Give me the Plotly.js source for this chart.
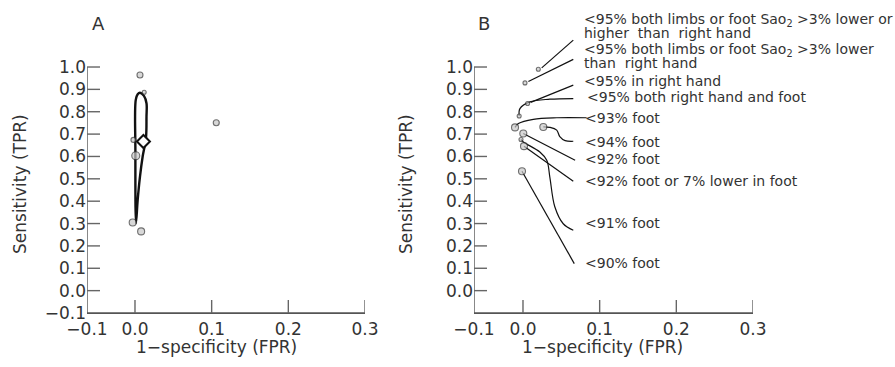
<!DOCTYPE html>
<html>
<head>
<meta charset="utf-8">
<script src="https://cdn.plot.ly/plotly-3.0.1.min.js"></script>
<style>html,body{margin:0;padding:0;background:#fff;}#chart{width:895px;height:367px;}</style>
</head>
<body>
<div id="chart"></div>
<script>
// ---------- Panel A data ----------
const studyFprA = [0.0065, 0.012, 0.106, -0.002, 0.001, -0.003, 0.008];
const studyTprA = [0.964, 0.887, 0.751, 0.674, 0.603, 0.305, 0.265];
const studyWeightA = [6, 4, 6, 5, 8, 7, 7];
const summaryFprA = [0.011];
const summaryTprA = [0.667];
const regionFprA = [0.0013, 0.0005, 0.001, 0.0035, 0.0065, 0.0117, 0.015, 0.015, 0.0143, 0.010, 0.0065, 0.0035, 0.0013];
const regionTprA = [0.302, 0.629, 0.853, 0.878, 0.885, 0.871, 0.838, 0.778, 0.682, 0.600, 0.510, 0.406, 0.302];

// ---------- Panel B data ----------
const criteriaB = [
  ["<95% both limbs or foot Sao<sub>2</sub> >3% lower or", "higher  than  right hand"],
  ["<95% both limbs or foot Sao<sub>2</sub> >3% lower", "than  right hand"],
  ["<95% in right hand"],
  ["<95% both right hand and foot"],
  ["<93% foot"],
  ["<94% foot"],
  ["<92% foot"],
  ["<91% foot"],
  ["<92% foot or 7% lower in foot"],
  ["<90% foot"]
];
const fprB = [0.020, 0.0026, 0.006, -0.005, -0.0104, 0.0265, 0.0004, -0.0026, 0.0013, -0.0013];
const tprB = [0.990, 0.929, 0.837, 0.781, 0.730, 0.732, 0.703, 0.676, 0.646, 0.534];
const weightB = [4, 4, 4, 4, 7, 7, 7, 4, 7, 7];
// leader paths (from each point to its label)
const leaderXB = [
  [0.0244, 0.0656],
  [0.007, 0.0656],
  [0.010, 0.0656],
  [-0.005, -0.004, 0.009, 0.035, 0.0656],
  [-0.0104, -0.006, 0.0135, 0.044, 0.083],
  [0.0265, 0.035, 0.044, 0.048, 0.055, 0.0656],
  [0.0004, 0.068],
  [-0.0026, 0.0004, 0.022, 0.031, 0.035, 0.0415, 0.0525, 0.0656],
  [0.0013, 0.0656],
  [-0.0013, 0.0669]
];
const leaderYB = [
  [0.996, 1.120],
  [0.935, 1.034],
  [0.842, 0.919],
  [0.781, 0.814, 0.844, 0.856, 0.859],
  [0.730, 0.747, 0.766, 0.773, 0.773],
  [0.732, 0.730, 0.718, 0.689, 0.671, 0.668],
  [0.703, 0.583],
  [0.676, 0.665, 0.620, 0.583, 0.508, 0.375, 0.299, 0.270],
  [0.646, 0.489],
  [0.534, 0.121]
];
const labelXB = [0.0765, 0.0765, 0.0765, 0.0808, 0.078, 0.078, 0.078, 0.078, 0.078, 0.078];
const labelYB = [[1.209, 1.151], [1.075, 1.017], [0.936], [0.865], [0.774], [0.665], [0.588], [0.303], [0.489], [0.124]];

// ---------- Axis ticks ----------
const xTickText = ["\u22120.1", "0.0", "0.1", "0.2", "0.3"];
const xTickValsA = [-0.0626, 0, 0.1, 0.2, 0.3];
const xTickValsB = [-0.0639, 0, 0.1, 0.2, 0.3];
const yTickValsA = [-0.1, 0, 0.1, 0.2, 0.3, 0.4, 0.5, 0.6, 0.7, 0.8, 0.9, 1.0];
const yTickTextA = ["\u22120.1", "0.0", "0.1", "0.2", "0.3", "0.4", "0.5", "0.6", "0.7", "0.8", "0.9", "1.0"];
const yTickValsB = [0, 0.1, 0.2, 0.3, 0.4, 0.5, 0.6, 0.7, 0.8, 0.9, 1.0];
const yTickTextB = ["0.0", "0.1", "0.2", "0.3", "0.4", "0.5", "0.6", "0.7", "0.8", "0.9", "1.0"];

const FONT = "DejaVu Sans";
const TXT = "#333";
const AXC = "#555";
const TICKC = "#666";
const dotFill = "#c8c8c8";
const dotLine = "#333";
const PX_PER_Y = 223.6;   // pixels per unit on the y axes
const PX_PER_X = 767;     // pixels per unit on the x axes
const TICK_PX = 13;
const yTop = 1.0 + 67 / PX_PER_Y;

const traces = [];
traces.push({x: regionFprA, y: regionTprA, xaxis: "x", yaxis: "y", mode: "lines",
  line: {color: "#111", width: 2.4, shape: "spline", smoothing: 1}, hoverinfo: "skip", showlegend: false});
traces.push({x: studyFprA, y: studyTprA, xaxis: "x", yaxis: "y", mode: "markers",
  marker: {size: studyWeightA, color: dotFill, line: {color: dotLine, width: 1.1}}, showlegend: false});
traces.push({x: summaryFprA, y: summaryTprA, xaxis: "x", yaxis: "y", mode: "markers",
  marker: {symbol: "diamond", size: 10, color: "#fff", line: {color: "#111", width: 2}}, showlegend: false});

for (let i = 0; i < leaderXB.length; i++) {
  traces.push({x: leaderXB[i], y: leaderYB[i], xaxis: "x2", yaxis: "y2", mode: "lines",
    line: {color: "#111", width: 1.2, shape: leaderXB[i].length > 2 ? "spline" : "linear"},
    hoverinfo: "skip", showlegend: false});
}
traces.push({x: fprB, y: tprB, xaxis: "x2", yaxis: "y2", mode: "markers",
  marker: {size: weightB, color: dotFill, line: {color: dotLine, width: 1.1}}, showlegend: false});

const annotations = [];
for (let i = 0; i < criteriaB.length; i++) {
  for (let j = 0; j < criteriaB[i].length; j++) {
    annotations.push({x: labelXB[i], y: labelYB[i][j], xref: "x2", yref: "y2", text: criteriaB[i][j],
      showarrow: false, xanchor: "left", yanchor: "middle", align: "left",
      font: {family: FONT, size: 14, color: TXT}});
  }
}
const addText = (t, px, py, size, angle) => annotations.push({x: px / 895, y: 1 - py / 367, xref: "paper", yref: "paper",
  text: t, showarrow: false, xanchor: "center", yanchor: "middle", textangle: angle || 0,
  font: {family: FONT, size: size, color: TXT}});
addText("A", 98, 24, 18);
addText("B", 484, 23, 18);
addText("1\u2212specificity (FPR)", 216, 347, 17);
addText("1\u2212specificity (FPR)", 602, 347, 17);
addText("Sensitivity (TPR)", 20, 184, 17, -90);
addText("Sensitivity (TPR)", 406, 184, 17, -90);

// axis lines and inward ticks drawn as shapes
const shapes = [];
function axisDecor(xr, yr, xStart, xVals, yVals) {
  shapes.push({type: "line", xref: xr, yref: yr, x0: xStart, x1: xStart, y0: -0.1, y1: 1.0,
    line: {color: AXC, width: 1.4}});
  shapes.push({type: "line", xref: xr, yref: yr, x0: xStart, x1: 0.3, y0: -0.1, y1: -0.1,
    line: {color: AXC, width: 1.4}});
  xVals.forEach(function(v){
    if (v === xStart) return;
    shapes.push({type: "line", xref: xr, yref: yr, x0: v, x1: v, y0: -0.1, y1: -0.1 + TICK_PX / PX_PER_Y,
      line: {color: TICKC, width: 1.4}});
  });
  yVals.forEach(function(v){
    if (v === -0.1) return;
    shapes.push({type: "line", xref: xr, yref: yr, x0: xStart, x1: xStart + TICK_PX / PX_PER_X, y0: v, y1: v,
      line: {color: TICKC, width: 1.4}});
  });
}
axisDecor("x", "y", xTickValsA[0], xTickValsA, yTickValsA);
axisDecor("x2", "y2", xTickValsB[0], xTickValsB, yTickValsB);

const axCommon = {ticks: "", showgrid: false, zeroline: false, linecolor: AXC, linewidth: 1.4,
  tickfont: {family: FONT, size: 17, color: TXT}, fixedrange: true, tickmode: "array"};

const layout = {
  width: 895, height: 367, margin: {l: 0, r: 0, t: 0, b: 0},
  paper_bgcolor: "#fff", plot_bgcolor: "#fff", showlegend: false,
  xaxis: Object.assign({}, axCommon, {domain: [87 / 895, 365 / 895], range: [xTickValsA[0], 0.3], showline: true,
    tickvals: xTickValsA, ticktext: xTickText, anchor: "y"}),
  yaxis: Object.assign({}, axCommon, {domain: [54 / 367, 1], range: [-0.1, yTop], showline: false,
    tickvals: yTickValsA, ticktext: yTickTextA, anchor: "x"}),
  xaxis2: Object.assign({}, axCommon, {domain: [474 / 895, 753 / 895], range: [xTickValsB[0], 0.3], showline: true,
    tickvals: xTickValsB, ticktext: xTickText, anchor: "y2"}),
  yaxis2: Object.assign({}, axCommon, {domain: [54 / 367, 1], range: [-0.1, yTop], showline: false,
    tickvals: yTickValsB, ticktext: yTickTextB, anchor: "x2"}),
  shapes: shapes,
  annotations: annotations
};

Plotly.newPlot("chart", traces, layout, {displayModeBar: false, staticPlot: true});
</script>
</body>
</html>
